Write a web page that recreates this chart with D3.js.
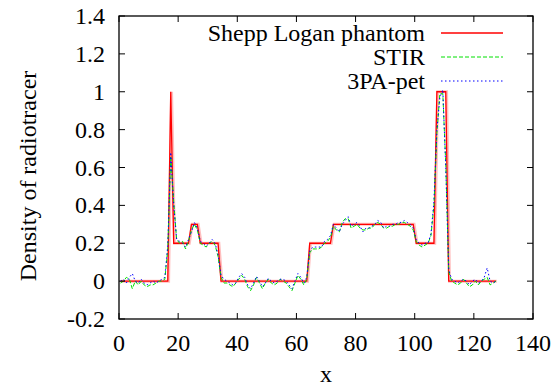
<!DOCTYPE html>
<html><head><meta charset="utf-8">
<script src="https://cdn.jsdelivr.net/npm/d3@7"></script>
<style>
body{margin:0;background:#fff;}
</style></head>
<body><svg id="c" width="556" height="387"></svg>
<script>
const xs = [0.5,1.5,2.5,3.5,4.5,5.5,6.5,7.5,8.5,9.5,10.5,11.5,12.5,13.5,14.5,15.5,16.5,17.5,18.5,19.5,20.5,21.5,22.5,23.5,24.5,25.5,26.5,27.5,28.5,29.5,30.5,31.5,32.5,33.5,34.5,35.5,36.5,37.5,38.5,39.5,40.5,41.5,42.5,43.5,44.5,45.5,46.5,47.5,48.5,49.5,50.5,51.5,52.5,53.5,54.5,55.5,56.5,57.5,58.5,59.5,60.5,61.5,62.5,63.5,64.5,65.5,66.5,67.5,68.5,69.5,70.5,71.5,72.5,73.5,74.5,75.5,76.5,77.5,78.5,79.5,80.5,81.5,82.5,83.5,84.5,85.5,86.5,87.5,88.5,89.5,90.5,91.5,92.5,93.5,94.5,95.5,96.5,97.5,98.5,99.5,100.5,101.5,102.5,103.5,104.5,105.5,106.5,107.5,108.5,109.5,110.5,111.5,112.5,113.5,114.5,115.5,116.5,117.5,118.5,119.5,120.5,121.5,122.5,123.5,124.5,125.5,126.5,127.5];
const phantom = [0,0,0,0,0,0,0,0,0,0,0,0,0,0,0,0,0,1,0.2,0.2,0.2,0.2,0.2,0.2,0.3,0.3,0.3,0.2,0.2,0.2,0.2,0.2,0.2,0.2,0,0,0,0,0,0,0,0,0,0,0,0,0,0,0,0,0,0,0,0,0,0,0,0,0,0,0,0,0,0,0.2,0.2,0.2,0.2,0.2,0.2,0.2,0.2,0.3,0.3,0.3,0.3,0.3,0.3,0.3,0.3,0.3,0.3,0.3,0.3,0.3,0.3,0.3,0.3,0.3,0.3,0.3,0.3,0.3,0.3,0.3,0.3,0.3,0.3,0.3,0.3,0.2,0.2,0.2,0.2,0.2,0.2,0.2,1,1,1,1,0,0,0,0,0,0,0,0,0,0,0,0,0,0,0,0,0];
const stir = [-0.01,0.0,0.02,0.01,-0.04,0.0,-0.02,0.0,-0.02,-0.03,-0.02,-0.02,-0.01,0.0,0.0,0.01,0.17,0.66,0.42,0.22,0.20,0.21,0.17,0.21,0.27,0.30,0.27,0.20,0.19,0.18,0.20,0.21,0.19,0.13,0.02,-0.01,-0.01,-0.02,-0.03,-0.01,0.01,0.03,0.01,-0.03,-0.05,-0.02,0.02,-0.01,-0.04,-0.01,0.01,-0.01,-0.02,-0.01,0.01,0.0,-0.01,-0.03,-0.05,-0.01,0.03,0.01,-0.02,0.01,0.15,0.17,0.17,0.17,0.18,0.20,0.21,0.23,0.29,0.27,0.26,0.31,0.33,0.33,0.28,0.29,0.30,0.28,0.27,0.27,0.28,0.28,0.30,0.31,0.30,0.28,0.28,0.29,0.29,0.30,0.30,0.31,0.31,0.30,0.29,0.27,0.21,0.19,0.18,0.19,0.20,0.24,0.40,0.78,0.99,0.99,0.62,0.05,0.0,-0.01,-0.02,-0.01,0.01,-0.01,-0.03,-0.02,0.0,-0.02,0.0,0.01,0.02,-0.02,-0.01,0.0];
const pet = [0.0,0.01,-0.01,0.02,0.04,0.0,-0.01,0.01,-0.01,-0.02,-0.01,0.0,-0.01,0.0,0.01,0.02,0.19,0.68,0.40,0.22,0.21,0.20,0.18,0.22,0.26,0.31,0.28,0.21,0.20,0.185,0.20,0.22,0.20,0.14,0.03,0.01,0.0,-0.01,-0.02,-0.01,0.02,0.04,0.02,-0.02,-0.04,-0.01,0.025,0.0,-0.03,-0.01,0.015,0.0,-0.01,0.0,0.01,0.01,0.0,-0.02,-0.04,0.0,0.04,0.02,-0.01,0.02,0.16,0.18,0.18,0.18,0.18,0.21,0.22,0.24,0.30,0.28,0.26,0.30,0.32,0.34,0.29,0.30,0.31,0.29,0.26,0.28,0.28,0.29,0.30,0.32,0.31,0.28,0.29,0.29,0.30,0.30,0.31,0.31,0.32,0.31,0.30,0.28,0.22,0.20,0.19,0.20,0.20,0.25,0.42,0.80,0.97,1.01,0.60,0.06,0.01,0.0,-0.01,0.0,0.01,0.0,-0.02,0.0,0.01,-0.01,0.0,0.02,0.07,0.0,-0.01,0.0];
const xTicks = [0,20,40,60,80,100,120,140];
const yTicks = [-0.2,0,0.2,0.4,0.6,0.8,1,1.2,1.4];
const xTickLabels = ["0","20","40","60","80","100","120","140"];
const yTickLabels = ["-0.2","0","0.2","0.4","0.6","0.8","1","1.2","1.4"];
const seriesNames = ["Shepp Logan phantom","STIR","3PA-pet"];
const xLabel = "x", yLabel = "Density of radiotracer";

const FF = "'Liberation Serif', 'Times New Roman', serif";
const fs = 24;
const svg = d3.select("#c");
const L=119,R=533,T=16,B=319;
const x = d3.scaleLinear().domain([0,140]).range([L,R]);
const y = d3.scaleLinear().domain([-0.2,1.4]).range([B,T]);

svg.append("clipPath").attr("id","clip").append("rect").attr("x",L).attr("y",T).attr("width",R-L).attr("height",B-T);

const line = vals => d3.line().x((d,i)=>x(xs[i])).y(d=>y(d))(vals);
const styles = [
  {color:"#ff0000",dash:null,w:1.3},
  {color:"#00e000",dash:"4,2",w:1},
  {color:"#0000ff",dash:"1.5,2.5",w:1}
];
const data=[phantom,stir,pet];
const g = svg.append("g").attr("clip-path","url(#clip)");
g.append("path").attr("d",line(phantom)).attr("fill","none").attr("stroke","#ff0000").attr("stroke-opacity",0.25).attr("stroke-width",3)
 .attr("transform","translate(0.8,0)");
data.forEach((v,k)=>{
  g.append("path").attr("d",line(v)).attr("fill","none")
   .attr("stroke",styles[k].color).attr("stroke-width",styles[k].w)
   .attr("stroke-dasharray",styles[k].dash);
});

svg.append("rect").attr("x",L).attr("y",T).attr("width",R-L).attr("height",B-T).attr("fill","none").attr("stroke","#000").attr("stroke-width",1.3);

const tl=6;
const ax = svg.append("g").attr("font-family",FF).attr("font-size",fs).attr("fill","#000");
xTicks.forEach((t,i)=>{
  const px=x(t);
  ax.append("line").attr("x1",px).attr("x2",px).attr("y1",B).attr("y2",B-tl).attr("stroke","#000");
  ax.append("line").attr("x1",px).attr("x2",px).attr("y1",T).attr("y2",T+tl).attr("stroke","#000");
  ax.append("text").attr("x",px).attr("y",351).attr("text-anchor","middle").text(xTickLabels[i]);
});
yTicks.forEach((t,i)=>{
  const py=y(t);
  ax.append("line").attr("x1",L).attr("x2",L+tl).attr("y1",py).attr("y2",py).attr("stroke","#000");
  ax.append("line").attr("x1",R).attr("x2",R-tl).attr("y1",py).attr("y2",py).attr("stroke","#000");
  ax.append("text").attr("x",105).attr("y",py+8).attr("text-anchor","end").text(yTickLabels[i]);
});
ax.append("text").attr("x",(L+R)/2).attr("y",382).attr("text-anchor","middle").text(xLabel);
ax.append("text").attr("transform","translate(36,176) rotate(-90)").attr("text-anchor","middle").text(yLabel);

const ly=[33,57,81];
seriesNames.forEach((n,k)=>{
  ax.append("text").attr("x",425).attr("y",ly[k]+8).attr("text-anchor","end").text(n);
  ax.append("line").attr("x1",441).attr("x2",503).attr("y1",ly[k]).attr("y2",ly[k])
    .attr("stroke",styles[k].color).attr("stroke-width",styles[k].w).attr("stroke-dasharray",styles[k].dash);
});
</script></body></html>
